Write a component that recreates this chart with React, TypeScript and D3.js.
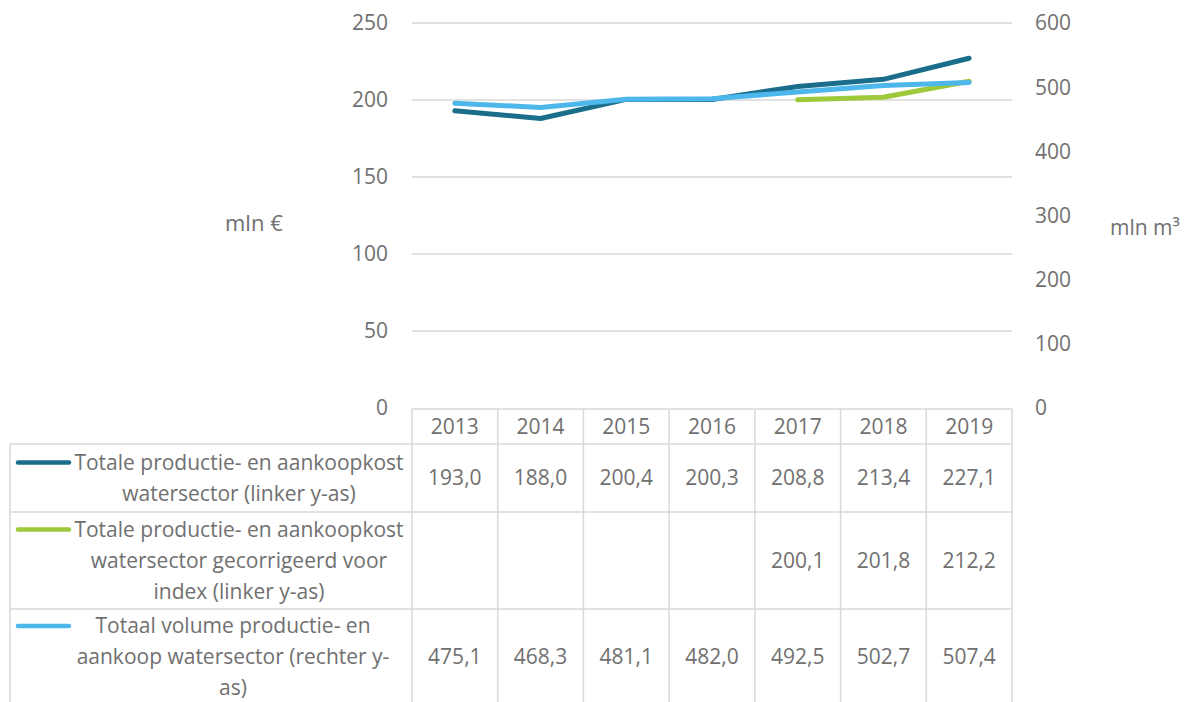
import React from "react";
import * as d3 from "d3";

const years = ["2013", "2014", "2015", "2016", "2017", "2018", "2019"];
const kost: (number | null)[] = [193.0, 188.0, 200.4, 200.3, 208.8, 213.4, 227.1];
const kostIndex: (number | null)[] = [null, null, null, null, 200.1, 201.8, 212.2];
const volume: (number | null)[] = [475.1, 468.3, 481.1, 482.0, 492.5, 502.7, 507.4];
const leftTicks = [0, 50, 100, 150, 200, 250];
const rightTicks = [0, 100, 200, 300, 400, 500, 600];

const seriesLabels = [
  ["Totale productie- en aankoopkost", "watersector (linker y-as)"],
  ["Totale productie- en aankoopkost", "watersector gecorrigeerd voor", "index (linker y-as)"],
  ["Totaal volume productie- en", "aankoop watersector (rechter y-", "as)"],
];
const colors = ["#1b6e8b", "#9dc93b", "#4db7ec"];

const W = 1189;
const H = 702;
const plotL = 412;
const plotR = 1012;
const plotT = 23;
const plotB = 408;
const FONT = "'Open Sans', sans-serif";
const FS = 21;
const TXT = "#707070";
const GRID = "#d9d9d9";

export default function App() {
  const x = d3.scaleBand<string>().domain(years).range([plotL, plotR]);
  const yL = d3.scaleLinear().domain([0, 250]).range([plotB, plotT]);
  const yR = d3.scaleLinear().domain([0, 600]).range([plotB, plotT]);
  const cx = (y: string) => (x(y) as number) + x.bandwidth() / 2;

  const mk = (vals: (number | null)[], sc: d3.ScaleLinear<number, number>) =>
    d3
      .line<number | null>()
      .defined((d) => d !== null)
      .x((_, i) => cx(years[i]))
      .y((d) => sc(d as number))(vals) as string;

  const series = [
    { vals: kost, sc: yL },
    { vals: kostIndex, sc: yL },
    { vals: volume, sc: yR },
  ];

  const tblLeft = 10;
  const hdrTop = 409;
  const rowEdges = [444, 512, 609, 720];
  const lineH = 31;
  const labelCx = [239, 239, 233];

  return (
    <svg
      width={W}
      height={H}
      style={{ position: "absolute", left: 0, top: 0, background: "#fff" }}
      fontFamily={FONT}
    >
      {leftTicks.slice(1).map((t) => (
        <line key={t} x1={plotL} x2={plotR} y1={yL(t)} y2={yL(t)} stroke={GRID} strokeWidth={1.5} />
      ))}
      {leftTicks.map((t) => (
        <text key={t} x={388} y={yL(t)} dy="0.35em" textAnchor="end" fontSize={FS} fill={TXT}>
          {t}
        </text>
      ))}
      {rightTicks.map((t) => (
        <text key={t} x={1035} y={yR(t)} dy="0.35em" textAnchor="start" fontSize={FS} fill={TXT}>
          {t}
        </text>
      ))}
      <text x={225} y={223} dy="0.35em" fontSize={22} fill={TXT}>mln €</text>
      <text x={1110} y={228} dy="0.35em" fontSize={21} fill={TXT}>mln m³</text>

      <g stroke={GRID} strokeWidth={1.5} fill="none">
        <line x1={plotL} x2={plotR} y1={hdrTop} y2={hdrTop} />
        {rowEdges.slice(0, 3).map((r) => (
          <line key={r} x1={tblLeft} x2={plotR} y1={r} y2={r} />
        ))}
        <line x1={tblLeft} x2={tblLeft} y1={rowEdges[0]} y2={H + 10} />
        {years.map((yr) => (
          <line key={yr} x1={x(yr)} x2={x(yr)} y1={hdrTop} y2={H + 10} />
        ))}
        <line x1={plotR} x2={plotR} y1={hdrTop} y2={H + 10} />
      </g>
      {years.map((yr) => (
        <text key={yr} x={cx(yr)} y={(hdrTop + rowEdges[0]) / 2} dy="0.35em" textAnchor="middle" fontSize={FS} fill={TXT}>
          {yr}
        </text>
      ))}
      {series.map((s, si) => {
        const top = rowEdges[si];
        const bot = si === 2 ? 705 : rowEdges[si + 1];
        const mid = (top + bot) / 2;
        const lines = seriesLabels[si];
        const firstY = mid - ((lines.length - 1) * lineH) / 2;
        return (
          <g key={si}>
            <line x1={18} x2={69} y1={firstY} y2={firstY} stroke={colors[si]} strokeWidth={4.5} strokeLinecap="round" />
            {lines.map((l, li) => (
              <text key={li} x={labelCx[si]} y={firstY + li * lineH} dy="0.35em" textAnchor="middle" fontSize={FS} fill={TXT}>
                {l}
              </text>
            ))}
            {s.vals.map((v, i) =>
              v === null ? null : (
                <text key={i} x={cx(years[i])} y={mid} dy="0.35em" textAnchor="middle" fontSize={FS} fill={TXT}>
                  {v.toFixed(1).replace(".", ",")}
                </text>
              )
            )}
          </g>
        );
      })}

      {series.map((s, si) => (
        <path
          key={si}
          d={mk(s.vals, s.sc)}
          fill="none"
          stroke={colors[si]}
          strokeWidth={5}
          strokeLinecap="round"
          strokeLinejoin="round"
        />
      ))}
    </svg>
  );
}
